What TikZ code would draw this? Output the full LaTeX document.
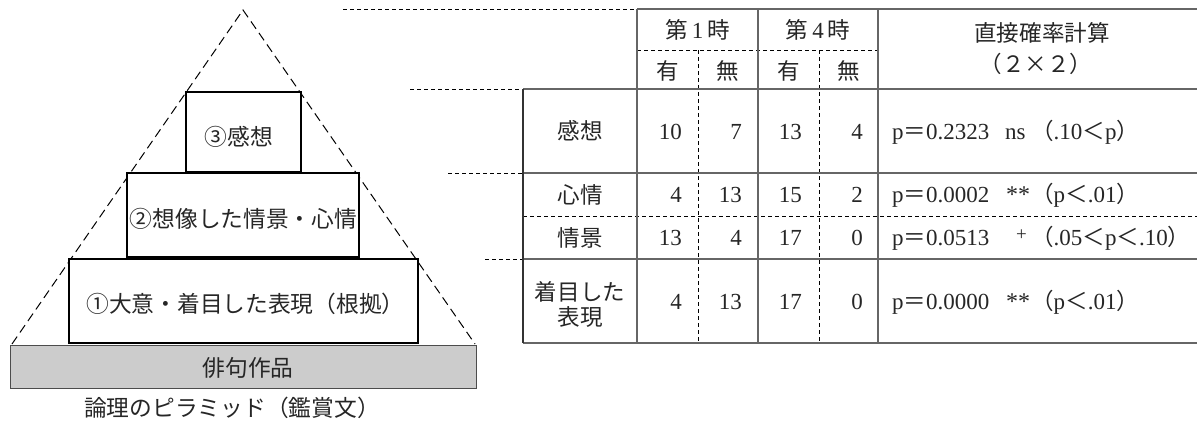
\documentclass[tikz,border=0pt]{standalone}
\usepackage{fontspec}
\setmainfont{Liberation Serif}
\newfontfamily\jp[Scale=0.98]{Noto Sans CJK JP}
\newcommand\J[1]{{\jp #1}}
\newcommand\myfs{\fontsize{23}{26}\selectfont}
\newcommand\pyfs{\fontsize{23.2}{26}\selectfont}
\newcommand\stars{{\fontsize{24}{24}\selectfont **}}
\begin{document}
\begin{tikzpicture}[x=1pt,y=-1pt,
  txt/.style={inner sep=0pt, text=black!85, font=\myfs},
  ptxt/.style={inner sep=0pt, text=black!85, font=\pyfs},
  grid/.style={draw=black!60, line width=1.3pt},
  dsh/.style={draw=black, line width=0.8pt, dash pattern=on 4pt off 3pt},
  tri/.style={draw=black, line width=1pt, dash pattern=on 9pt off 5pt},
  pbox/.style={draw=black, line width=2.6pt, fill=white, inner sep=0pt},
  base/.style={draw=black!70, line width=1pt, fill=black!20, inner sep=0pt}
]
\useasboundingbox (0,0) rectangle (1197,421);

% ---------- pyramid ----------
\coordinate (apex) at (243,10);
\coordinate (bl) at (12,344);
\coordinate (br) at (475,344);
\draw[tri] (bl) -- (apex) -- (br);

\node[base, minimum width=466pt, minimum height=43pt] (work) at (243,366.5) {};
\node[ptxt, anchor=base] (worktxt) at (248,376.5) {\J{俳句作品}};

\node[pbox, minimum width=349pt, minimum height=84pt] (b1) at (243.5,301) {};
\node[pbox, minimum width=232pt, minimum height=84pt] (b2) at (243,215) {};
\node[pbox, minimum width=115pt, minimum height=80pt] (b3) at (243.5,132) {};
\node[ptxt, anchor=base] (b1t) at (245.5,312) {\J{①大意・着目した表現（根拠）}};
\node[ptxt, anchor=base] (b2t) at (243.5,227.5) {\J{②想像した情景・心情}};
\node[ptxt, anchor=base] (b3t) at (239,145.5) {\J{③感想}};

\node[ptxt, anchor=base] (cap) at (232,416.5) {\J{論理のピラミッド（鑑賞文）}};

% ---------- table lines ----------
% extension dashes
\draw[dsh] (343,9) -- (637,9);
\draw[dsh] (410,89) -- (523,89);
\draw[dsh] (448,173) -- (523,173);
\draw[dsh] (485,259) -- (523,259);
% inner dashed lines
\draw[dsh] (637,50) -- (878,50);
\draw[dsh] (698,50) -- (698,343);
\draw[dsh] (819,50) -- (819,343);
\draw[dsh] (523,216) -- (1197,216);
% solid grid
\draw[grid] (637,9) -- (1197,9);
\draw[grid] (523,89) -- (1197,89);
\draw[grid] (523,173) -- (1197,173);
\draw[grid] (523,259) -- (1197,259);
\draw[grid] (523,343) -- (1197,343);
\draw[grid, draw=black!80] (523,89) -- (523,343);
\draw[grid] (637,9) -- (637,343);
\draw[grid] (758,9) -- (758,343);
\draw[grid] (878,9) -- (878,343);

% ---------- header ----------
\node[txt, anchor=base] (h1) at (697.5,38.5) {\J{第}\,1\,\J{時}};
\node[txt, anchor=base] (h4) at (818,38.5) {\J{第}\,4\,\J{時}};
\node[txt, anchor=base] (h1y) at (667.5,79.5) {\J{有}};
\node[txt, anchor=base] (h1n) at (728,79.5) {\J{無}};
\node[txt, anchor=base] (h4y) at (788.5,79.5) {\J{有}};
\node[txt, anchor=base] (h4n) at (848.5,79.5) {\J{無}};
\node[txt, anchor=base] (hp1) at (1042,41) {\J{直接確率計算}};
\node[txt, anchor=base] (hp2) at (1036,72.5) {\J{（２×２）}};

% ---------- row labels ----------
\node[txt, anchor=base] (r1) at (580,139.5) {\J{感想}};
\node[txt, anchor=base] (r2) at (580,203) {\J{心情}};
\node[txt, anchor=base] (r3) at (580,246) {\J{情景}};
\node[txt, anchor=base] (r4a) at (580,300.5) {\J{着目した}};
\node[txt, anchor=base] (r4b) at (580,325.5) {\J{表現}};

% ---------- numbers ----------
\node[txt, anchor=base east] (n11) at (682,139) {10};
\node[txt, anchor=base east] (n12) at (742,139) {7};
\node[txt, anchor=base east] (n13) at (802,139) {13};
\node[txt, anchor=base east] (n14) at (863,139) {4};

\node[txt, anchor=base east] (n21) at (682,202.5) {4};
\node[txt, anchor=base east] (n22) at (742,202.5) {13};
\node[txt, anchor=base east] (n23) at (802,202.5) {15};
\node[txt, anchor=base east] (n24) at (863,202.5) {2};

\node[txt, anchor=base east] (n31) at (682,245.5) {13};
\node[txt, anchor=base east] (n32) at (742,245.5) {4};
\node[txt, anchor=base east] (n33) at (802,245.5) {17};
\node[txt, anchor=base east] (n34) at (863,245.5) {0};

\node[txt, anchor=base east] (n41) at (682,309.5) {4};
\node[txt, anchor=base east] (n42) at (742,309.5) {13};
\node[txt, anchor=base east] (n43) at (802,309.5) {17};
\node[txt, anchor=base east] (n44) at (863,309.5) {0};

% ---------- p values ----------
\node[txt, anchor=base west] (p1) at (892,139)
  {\makebox[113pt][l]{p\J{＝}0.2323}\makebox[26pt][l]{ns}\J{（}.10\J{＜}p\J{）}};
\node[txt, anchor=base west] (p2) at (892,202.5)
  {\makebox[114pt][l]{p\J{＝}0.0002}\makebox[25pt][l]{\stars}\J{（}p\J{＜}.01\J{）}};
\node[txt, anchor=base west] (p3) at (892,245.5)
  {\makebox[113pt][l]{p\J{＝}0.0513}\makebox[26pt][l]{\hspace{11pt}\raisebox{5pt}{\fontsize{19}{19}\selectfont +}}\J{（}.05\J{＜}p\J{＜}.10\J{）}};
\node[txt, anchor=base west] (p4) at (892,309.5)
  {\makebox[114pt][l]{p\J{＝}0.0000}\makebox[25pt][l]{\stars}\J{（}p\J{＜}.01\J{）}};
\end{tikzpicture}
\end{document}
